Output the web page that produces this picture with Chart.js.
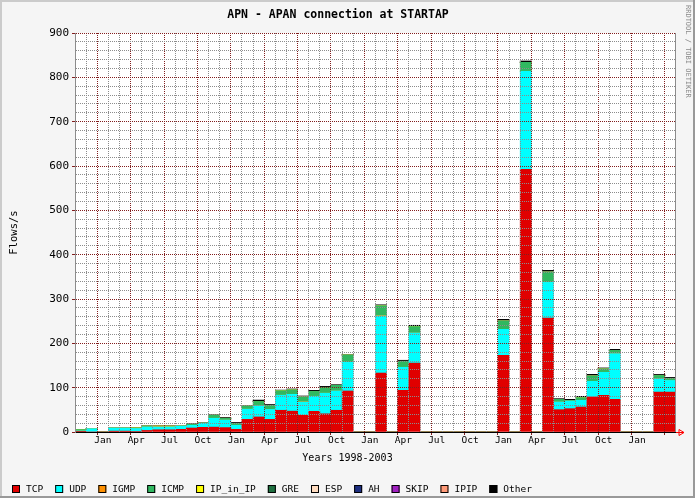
<!DOCTYPE html>
<html>
<head>
<meta charset="utf-8">
<script src="https://cdn.jsdelivr.net/npm/chart.js@4.4.1/dist/chart.umd.min.js"></script>
<style>
html,body{margin:0;padding:0;background:#f5f5f5;}
#wrap{width:695px;height:498px;position:relative;}
</style>
</head>
<body>
<div id="wrap"><canvas id="c"></canvas></div>
<script>
// ---- categories (one per month, Nov 1998 .. Apr 2003) ----
const months = [
  'Nov 1998','Dec 1998','Jan 1999','Feb 1999','Mar 1999','Apr 1999','May 1999','Jun 1999','Jul 1999','Aug 1999','Sep 1999','Oct 1999',
  'Nov 1999','Dec 1999','Jan 2000','Feb 2000','Mar 2000','Apr 2000','May 2000','Jun 2000','Jul 2000','Aug 2000','Sep 2000','Oct 2000',
  'Nov 2000','Dec 2000','Jan 2001','Feb 2001','Mar 2001','Apr 2001','May 2001','Jun 2001','Jul 2001','Aug 2001','Sep 2001','Oct 2001',
  'Nov 2001','Dec 2001','Jan 2002','Feb 2002','Mar 2002','Apr 2002','May 2002','Jun 2002','Jul 2002','Aug 2002','Sep 2002','Oct 2002',
  'Nov 2002','Dec 2002','Jan 2003','Feb 2003','Mar 2003','Apr 2003'
];
// ---- tick labels shown under the x axis ----
const tickLabels = [
  '','','Jan','','','Apr','','','Jul','','','Oct',
  '','','Jan','','','Apr','','','Jul','','','Oct',
  '','','Jan','','','Apr','','','Jul','','','Oct',
  '','','Jan','','','Apr','','','Jul','','','Oct',
  '','','Jan','','',''
];
const yTickLabels = ['0','100','200','300','400','500','600','700','800','900'];

// ---- series values (flows/s) ----
const tcp = [0.5,0,0,2,2,1,3.5,5,5,6, 9,10.5,11,10,6,28.5,34,28.5,49,47, 37.6,46.6,41,49,92.5,0,0,133,0,94, 155.7,0,0,0,0,0,0,0,173,0, 592.6,0,257,50.4,52.6,56.4,79,82.7,73.7,0, 0,0,90,90];
const udp = [2,7.5,0,7,7,7,8,6.5,6.5,7.5, 6,9.5,20,17,9,23,25,22.5,34,38, 30,34,46.6,43.6,64.7,0,0,128.6,0,52, 67.7,0,0,0,0,0,0,0,58.6,0, 221,0,80.5,17.3,17.3,15,35.3,52,103,0, 0,0,30,26.3];
const igmp = [0,0,0,0,0,0.8,0,2,0,0, 0,0,0,0,0,0,0,0,0,0, 0.8,0,0,0,0,0,0,1.2,0,0, 0,0,0,0,0,0,0,0,0,0, 0,0,0,0,0,0,0,0,0,0, 0,0,0,0];
const icmp = [3,0,0,0,0,0.7,2,0,0,0, 2.5,0,7,4,4.5,7,10,9,10,10, 10.5,11,13,12.8,16.5,0,0,21.8,0,13.5, 14.3,0,0,0,0,0,0,0,18.8,0, 20.3,0,23.3,6,1.5,6,12,7.5,7.5,0, 0,0,7.5,4.5];
const ipInIp = [0,0,0,0,0,0,0,0,2,0, 0,0,0,0,0,0,0,0,0,0, 0,0,0,0,0,0,0,0,0,0, 0,0,0,0,0,0,0,0,0,0, 0,0,0,0,0,0,0,0,0,0, 0,0,0,0];
const gre = [0,0,0,0,0,0,0,0,0,0, 0,0,0,0,0,0,0,0,0,0, 0,0,0,0,0,0,0,0,0,0, 0,0,0,0,0,0,0,0,0,0, 0,0,0,0,0,0,0,0,0,0, 0,0,0,0];
const esp = [0,0,0,0,0,0,0,0,0,0, 0,0,0,0,0,0,0,0,0,0, 0,0,0,0,0,0,0,0,0,0, 0,0,0,0,0,0,0,0,0,0, 0,0,0,0,0,0,0,0,0,0, 0,0,0,0];
const ah = [0,0,0,0,0,0,0,0,0,0, 0,0,0,0,0,0,0,0,0,0, 0,0,0,0,0,0,0,0,0,0, 0,0,0,0,0,0,0,0,0,0, 0,0,0,0,0,0,0,0,0,0, 0,0,0,0];
const skip = [0,0,0,0,0,0,0,0,0,0, 0,0,0,0,0,0,0,0,0,0, 0,0,0,0,0,0,0,0,0,0, 0,0,0,0,0,0,0,0,0,0, 0,0,0,0,0,0,0,0,0,0, 0,0,0,0];
const ipip = [0,0,0,0,0,0,0,0,0,0, 0,0,0,0,0,0,0,0,0,0, 0,0,0,0,0,0,0,0,0,0, 0,0,0,0,0,0,0,0,0,0, 0,0,0,0,0,0,0,0,0,0, 0,0,0,0];
const other = [0.5,0.8,0,0.8,0.8,0.5,1,1.5,1.5,1.5, 1.3,1.5,1.5,2,2,1.5,3,2,1.5,2, 2.3,2.3,2.3,1.5,1.5,0,0,2.3,0,2.3, 3,0,0,0,0,0,0,0,3.8,0, 3,0,3.8,1.5,2.3,3,3.8,2.3,2.3,0, 0,0,2.3,2.3];

const seriesNames = ['TCP','UDP','IGMP','ICMP','IP_in_IP','GRE','ESP','AH','SKIP','IPIP','Other'];
const seriesValues = [tcp, udp, igmp, icmp, ipInIp, gre, esp, ah, skip, ipip, other];
const seriesColors = ['#e00000','#00ffff','#ff9000','#30b860','#ffff00','#1f7040','#ffdcc0','#1e2f80','#a020c0','#ff9a78','#000000'];

const FONT = "'DejaVu Sans Mono', 'Liberation Mono', monospace";
const MGRID = '#821e1e';
const GRID = '#8c8c8c';

const isQuarterStart = (i) => {
  const m = months[i];
  return !!m && /^(Jan|Apr|Jul|Oct)/.test(m);
};

const deco = {
  id: 'deco',
  beforeDraw(chart) {
    const {ctx, width, height, chartArea: a} = chart;
    ctx.save();
    ctx.fillStyle = '#f5f5f5';
    ctx.fillRect(0, 0, width, height);
    ctx.fillStyle = '#ffffff';
    ctx.fillRect(a.left, a.top, a.right - a.left, a.bottom - a.top);
    ctx.restore();
  },
  afterDraw(chart) {
    const {ctx, width, height, chartArea: a} = chart;
    ctx.save();
    // right edge of plot
    ctx.strokeStyle = GRID;
    ctx.lineWidth = 1;
    ctx.beginPath();
    ctx.moveTo(Math.round(a.right) - 0.5, a.top);
    ctx.lineTo(Math.round(a.right) - 0.5, a.bottom);
    ctx.stroke();
    // arrow at end of x axis
    const ay = Math.round(a.bottom) + 0.5;
    ctx.strokeStyle = '#ff0000';
    ctx.beginPath();
    ctx.moveTo(a.right, ay);
    ctx.lineTo(a.right + 8, ay);
    ctx.moveTo(a.right + 3, ay - 3);
    ctx.lineTo(a.right + 3, ay + 3);
    ctx.lineTo(a.right + 8, ay);
    ctx.closePath();
    ctx.stroke();
    // x axis title
    ctx.fillStyle = '#000';
    ctx.font = '10px ' + FONT;
    ctx.textAlign = 'center';
    ctx.textBaseline = 'middle';
    ctx.fillText('Years 1998-2003', width / 2, 458);
    // legend
    ctx.font = '9.5px ' + FONT;
    ctx.textAlign = 'left';
    let x = 12;
    const by = 485;
    chart.data.datasets.forEach(ds => {
      ctx.fillStyle = ds.backgroundColor;
      ctx.fillRect(x, by, 8, 8);
      ctx.strokeStyle = '#000';
      ctx.lineWidth = 1;
      ctx.strokeRect(x + 0.5, by + 0.5, 7, 7);
      ctx.fillStyle = '#000';
      ctx.fillText(ds.label, x + 14, by + 4.5);
      x += 8 + 6 + ctx.measureText(ds.label).width + 12;
    });
    // watermark
    ctx.save();
    ctx.translate(688, 5);
    ctx.rotate(Math.PI / 2);
    ctx.font = '7px ' + FONT;
    ctx.fillStyle = '#8a8a8a';
    ctx.textAlign = 'left';
    ctx.textBaseline = 'middle';
    ctx.fillText('RRDTOOL / TOBI OETIKER', 0, 0);
    ctx.restore();
    // 3D frame
    ctx.fillStyle = '#cbcbcb';
    ctx.fillRect(0, 0, width, 2);
    ctx.fillRect(0, 0, 2, height);
    ctx.fillStyle = '#999999';
    ctx.fillRect(width - 2, 0, 2, height);
    ctx.fillRect(0, height - 2, width, 2);
    ctx.restore();
  }
};

new Chart(document.getElementById('c'), {
  type: 'bar',
  data: {
    labels: months,
    datasets: seriesNames.map((name, i) => ({
      label: name,
      data: seriesValues[i],
      backgroundColor: seriesColors[i],
      borderWidth: 0,
      barPercentage: 1,
      categoryPercentage: 1
    }))
  },
  options: {
    responsive: true,
    maintainAspectRatio: false,
    animation: false,
    devicePixelRatio: 1,
    layout: { padding: { left: 0, right: 19, top: 0, bottom: 31 } },
    plugins: {
      legend: { display: false },
      tooltip: { enabled: false },
      title: {
        display: true,
        text: 'APN - APAN connection at STARTAP',
        color: '#000',
        font: { family: FONT, size: 11.5, weight: 'bold' },
        padding: { top: 8, bottom: 11.2 }
      }
    },
    scales: {
      x: {
        stacked: true,
        offset: true,
        afterFit: (s) => { s.height = 35; },
        grid: {
          offset: true,
          z: 1,
          lineWidth: 1,
          color: (c) => isQuarterStart(c.index) ? MGRID : GRID,
          drawTicks: true,
          tickLength: 3,
          tickColor: (c) => isQuarterStart(c.index) ? MGRID : 'rgba(0,0,0,0)'
        },
        border: { display: true, color: '#000', width: 1, dash: [1, 1], z: 2 },
        ticks: {
          autoSkip: false,
          maxRotation: 0,
          minRotation: 0,
          padding: 0,
          color: '#000',
          font: { family: FONT, size: 9.5 },
          callback: (v, i) => tickLabels[i]
        }
      },
      y: {
        stacked: true,
        min: 0,
        max: 900,
        afterFit: (s) => { s.width = 75; },
        grid: {
          z: 1,
          lineWidth: 1,
          color: (c) => (c.tick && c.tick.value % 100 === 0) ? MGRID : GRID,
          drawTicks: true,
          tickLength: 3,
          tickColor: (c) => (c.tick && c.tick.value % 100 === 0) ? MGRID : 'rgba(0,0,0,0)'
        },
        border: { display: true, color: GRID, width: 1, dash: [1, 1], z: 2 },
        ticks: {
          stepSize: 20,
          autoSkip: false,
          padding: 3,
          color: '#000',
          font: { family: FONT, size: 11 },
          callback: (v) => (v % 100 === 0) ? yTickLabels[v / 100] : ''
        },
        title: {
          display: true,
          text: 'Flows/s',
          color: '#000',
          font: { family: FONT, size: 10.5 },
          padding: { top: 8, bottom: 0 }
        }
      }
    }
  },
  plugins: [deco]
});
</script>
</body>
</html>
